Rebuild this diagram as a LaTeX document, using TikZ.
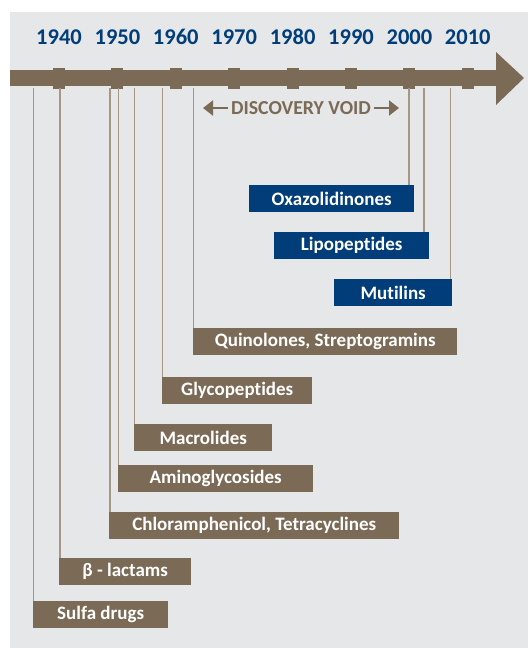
\documentclass[tikz,border=0pt]{standalone}
\usepackage{fontspec}
\setmainfont{Carlito}[Ligatures=NoCommon]
\usepackage{tikz}
\usetikzlibrary{arrows.meta,positioning,calc}
\definecolor{bgrey}{RGB}{230,231,233}
\definecolor{axisbrown}{RGB}{123,106,85}
\definecolor{leaderbrown}{RGB}{165,151,136}
\definecolor{yearblue}{RGB}{0,61,121}

\begin{document}
\begin{tikzpicture}[
    x=1pt, y=-1pt,
    every node/.style={font=\bfseries, align=center},
    classbox/.style={fill=axisbrown, text=white, minimum height=27pt,
        inner sep=0pt, anchor=north west, font=\fontsize{19}{19}\selectfont\bfseries},
    newbox/.style={classbox, fill=yearblue},
    leader/.style={draw=leaderbrown, line width=1.5pt},
    voidarrow/.style={draw=axisbrown, line width=2pt, -{Triangle[length=10pt, width=15pt]}}
]
\useasboundingbox (0,0) rectangle (528,648);
\fill[bgrey] (10,12) rectangle (528,648);

% time axis with arrow head
\fill[axisbrown] (10,70) rectangle (497,86);
\fill[axisbrown] (496,52) -- (524,78) -- (496,105) -- cycle;
\foreach \yr [count=\i from 0] in {1940,1950,1960,1970,1980,1990,2000,2010} {
    \fill[axisbrown] ({59+58.4*\i-6},68) rectangle ({59+58.4*\i+6},89);
    \node[text=yearblue, font=\fontsize{22.5}{22.5}\selectfont\bfseries] (y\yr) at ({59+58.4*\i},37) {\yr};
}

% discovery void
\node[text=axisbrown, font=\fontsize{19.8}{19.8}\selectfont\bfseries] (void) at (301,108) {DISCOVERY VOID};
\coordinate (voidL) at (203,108);
\coordinate (voidR) at (399,108);
\draw[voidarrow] (void.west) -- (voidL);
\draw[voidarrow] (void.east) -- (voidR);

% classes of antibiotics
\node[newbox, minimum width=165pt] (oxa) at (249,185) {Oxazolidinones};
\node[newbox, minimum width=155pt] (lipo) at (274,232) {Lipopeptides};
\node[newbox, minimum width=118pt] (muti) at (334,279) {Mutilins};
\node[classbox, minimum width=264pt] (quino) at (193,328) {Quinolones, Streptogramins};
\node[classbox, minimum width=150pt] (glyco) at (162,377) {Glycopeptides};
\node[classbox, minimum width=138pt] (macro) at (134,424) {Macrolides};
\node[classbox, minimum width=195pt] (amino) at (118,465) {Aminoglycosides};
\node[classbox, minimum width=290pt] (chloro) at (109,512) {Chloramphenicol, Tetracyclines};
\node[classbox, minimum width=132pt] (beta) at (59,558) {β - lactams};
\node[classbox, minimum width=135pt] (sulfa) at (33,601) {Sulfa drugs};

% leaders down from the axis
\foreach \cls/\x in {sulfa/33.5, beta/60, chloro/110, amino/118.5, macro/134.5,
                     glyco/162.5, quino/193.5, oxa/409, lipo/424, muti/450.5} {
    \coordinate (t\cls) at (\x,88);
    \draw[leader] (t\cls) -- (t\cls |- \cls.north);
}
\end{tikzpicture}
\end{document}
